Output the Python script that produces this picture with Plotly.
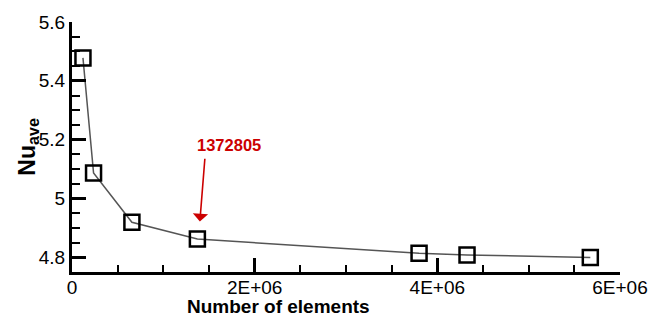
import plotly.graph_objects as go

# Mesh-independence study: average Nusselt number vs. number of elements
elements = [120000, 236000, 656000, 1372805, 3800000, 4325000, 5675000]
nu_ave = [5.478, 5.087, 4.919, 4.862, 4.814, 4.808, 4.799]

x_tickvals = [0, 2e6, 4e6, 6e6]
x_ticktext = ["0", "2E+06", "4E+06", "6E+06"]
y_tickvals = [4.8, 5.0, 5.2, 5.4, 5.6]
y_ticktext = ["4.8", "5", "5.2", "5.4", "5.6"]

selected_mesh = 1372805

font_family = "Liberation Sans, Arial, sans-serif"

fig = go.Figure()
fig.add_trace(go.Scatter(
    x=elements, y=nu_ave,
    mode="lines+markers",
    line=dict(color="#555555", width=1.5),
    marker=dict(symbol="square-open", size=15, color="black",
                line=dict(color="black", width=2.5)),
    showlegend=False,
    cliponaxis=False,
))

axis_common = dict(
    showline=True, linecolor="black", linewidth=3,
    ticks="inside", ticklen=14, tickwidth=2.5, tickcolor="black",
    showgrid=False, zeroline=False, mirror=False,
    tickfont=dict(family=font_family, size=19, color="black"),
)

fig.update_xaxes(
    range=[0, 6e6], tickmode="array", tickvals=x_tickvals, ticktext=x_ticktext,
    minor=dict(dtick=5e5, ticks="inside", ticklen=7, tickwidth=1.5, tickcolor="black"),
    ticklabelstandoff=-4,
    **axis_common,
)
fig.update_yaxes(
    range=[4.75, 5.6], tickmode="array", tickvals=y_tickvals, ticktext=y_ticktext,
    minor=dict(dtick=0.05, tick0=4.75, ticks="inside", ticklen=8, tickwidth=1.5, tickcolor="black"),
    **axis_common,
)

# Axis titles
fig.add_annotation(
    text="<b>Number of elements</b>", xref="paper", yref="paper",
    x=(282 - 72) / 556, y=-35 / 256, xanchor="center", yanchor="middle",
    showarrow=False, font=dict(family=font_family, size=19, color="black"),
)
fig.add_annotation(
    text="<b>Nu<sub>ave</sub></b>", xref="paper", yref="paper",
    x=-45 / 556, y=0.5, xanchor="center", yanchor="middle", textangle=-90,
    showarrow=False, font=dict(family=font_family, size=23, color="black"),
)

# Selected mesh callout
fig.add_annotation(
    x=1.40e6, y=4.922, ax=1.456e6, ay=5.14, xref="x", yref="y", axref="x", ayref="y",
    text="", showarrow=True, arrowhead=1, arrowsize=1.6, arrowwidth=1.6,
    arrowcolor="#cc0000",
)
fig.add_annotation(
    x=1.717e6, y=5.182, xref="x", yref="y", text=f"<b>{selected_mesh}</b>",
    showarrow=False, font=dict(family=font_family, size=16.5, color="#cc0000"),
    xanchor="center", yanchor="middle",
)

fig.update_layout(
    width=660, height=322,
    margin=dict(l=72, r=32, t=16, b=50),
    paper_bgcolor="white", plot_bgcolor="white",
)

fig.write_html("out.html")
